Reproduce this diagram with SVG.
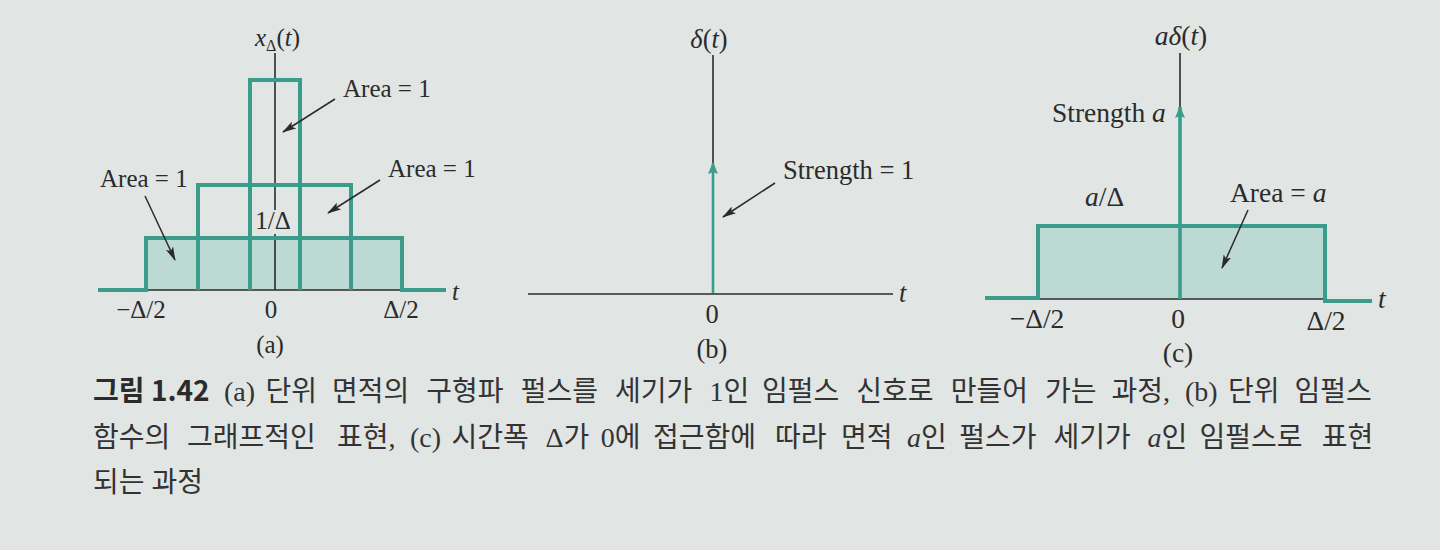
<svg xmlns="http://www.w3.org/2000/svg" width="1440" height="550" viewBox="0 0 1440 550">
<defs>
<style>
.lbl{font-family:"Liberation Serif","Times New Roman",serif;font-size:25px;fill:#2b2b2b}
.lb{font-size:26.5px}
.lc{font-size:27.5px}
.it{font-style:italic}
.teal{stroke:#3a9c8b;fill:none;stroke-width:4}
.fill{fill:#bcd9d3;stroke:none}
.ax{stroke:#2b2b2b;stroke-width:1.6;fill:none}
.ptr{stroke:#2b2b2b;stroke-width:1.5;fill:none;marker-end:url(#ah)}
.cap{font-family:"Liberation Serif","Noto Sans CJK KR",serif;font-size:28px;fill:#333}
.capb{font-family:"Noto Sans CJK KR",sans-serif;font-weight:bold;font-size:28px;fill:#2b2b2b}
</style>
<marker id="ah" viewBox="0 0 14 8" refX="13" refY="4" markerWidth="14" markerHeight="8" markerUnits="userSpaceOnUse" orient="auto">
<path d="M0,0 L14,4 L0,8 L3,4 Z" fill="#2b2b2b"/>
</marker>
<marker id="th" viewBox="0 0 12 10" refX="11" refY="5" markerWidth="12" markerHeight="10" markerUnits="userSpaceOnUse" orient="auto">
<path d="M0,0 L12,5 L0,10 L2,5 Z" fill="#3a9c8b"/>
</marker>
</defs>
<rect width="1440" height="550" fill="#e1e5e4"/>

<g id="panel-a">
<rect class="fill" x="146" y="238" width="256" height="52"/>
<line class="ax" x1="275" y1="53" x2="275" y2="210"/>
<line class="ax" x1="275" y1="234" x2="275" y2="290"/>
<line class="ax" x1="146" y1="290" x2="402" y2="290"/>
<path class="teal" d="M98,290 H146 V238 H402 V290 H446"/>
<path class="teal" d="M198,290 V185 H351 V290"/>
<path class="teal" d="M250,290 V80 H300 V290"/>
<text class="lbl it" x="255" y="46">x<tspan font-style="normal" font-size="16" dy="5">Δ</tspan><tspan font-style="normal" dy="-5">(</tspan>t<tspan font-style="normal">)</tspan></text>
<text class="lbl" x="343" y="97">Area = 1</text>
<text class="lbl" x="388" y="177">Area = 1</text>
<text class="lbl" x="100" y="187">Area = 1</text>
<text class="lbl" x="273" y="229" text-anchor="middle" font-size="22">1/Δ</text>
<text class="lbl" x="141" y="318" text-anchor="middle">−Δ/2</text>
<text class="lbl" x="271" y="318" text-anchor="middle">0</text>
<text class="lbl" x="401" y="318" text-anchor="middle">Δ/2</text>
<text class="lbl it" x="452" y="300">t</text>
<text class="lbl" x="270" y="353" text-anchor="middle">(a)</text>
</g>

<g id="panel-b">
<line class="ax" x1="528" y1="294" x2="893" y2="294"/>
<line class="ax" x1="713" y1="55" x2="713" y2="166"/>
<line x1="713" y1="293" x2="713" y2="163" stroke="#3a9c8b" stroke-width="2.6" marker-end="url(#th)"/>
<text class="lbl lb" x="709" y="48" text-anchor="middle"><tspan class="it">δ</tspan>(<tspan class="it">t</tspan>)</text>
<text class="lbl lb" x="783" y="179">Strength = 1</text>
<text class="lbl lb" x="712" y="323" text-anchor="middle">0</text>
<text class="lbl lb it" x="899" y="302">t</text>
<text class="lbl lb" x="712" y="358" text-anchor="middle">(b)</text>
</g>

<g id="panel-c">
<rect class="fill" x="1038" y="226" width="287" height="73"/>
<line class="ax" x1="1038" y1="299" x2="1325" y2="299"/>
<path class="teal" d="M985,298 H1038 V226 H1325 V301 H1372"/>
<line class="ax" x1="1180" y1="53" x2="1180" y2="110"/>
<line x1="1180" y1="299" x2="1180" y2="107" stroke="#3a9c8b" stroke-width="3.6" marker-end="url(#th)"/>
<text class="lbl lc" x="1181" y="45" text-anchor="middle"><tspan class="it">aδ</tspan>(<tspan class="it">t</tspan>)</text>
<text class="lbl lc" x="1052" y="122">Strength <tspan class="it">a</tspan></text>
<text class="lbl lc it" x="1085" y="206">a<tspan font-style="normal">/Δ</tspan></text>
<text class="lbl lc" x="1230" y="202">Area = <tspan class="it">a</tspan></text>
<text class="lbl lc" x="1037" y="328" text-anchor="middle">−Δ/2</text>
<text class="lbl lc" x="1178" y="328" text-anchor="middle">0</text>
<text class="lbl lc" x="1326" y="330" text-anchor="middle">Δ/2</text>
<text class="lbl lc it" x="1378" y="308">t</text>
<text class="lbl lc" x="1178" y="362" text-anchor="middle">(c)</text>
</g>

<g id="connectors">
<line class="ptr" x1="335" y1="99" x2="283" y2="132"/>
<line class="ptr" x1="380" y1="180" x2="328" y2="213"/>
<line class="ptr" x1="145" y1="196" x2="175" y2="260"/>
<line class="ptr" x1="775" y1="183" x2="723" y2="217"/>
<line class="ptr" x1="1248" y1="210" x2="1222" y2="268"/>
</g>

<g id="caption">
<text class="cap" y="401"><tspan class="capb" x="93">그림 1.42</tspan><tspan x="224">(a)</tspan><tspan x="265.5">단위</tspan><tspan x="332">면적의</tspan><tspan x="426.3">구형파</tspan><tspan x="520.7">펄스를</tspan><tspan x="615">세기가</tspan><tspan x="709.5">1인</tspan><tspan x="762">임펄스</tspan><tspan x="856.3">신호로</tspan><tspan x="950.7">만들어</tspan><tspan x="1045">가는</tspan><tspan x="1111.5">과정,</tspan><tspan x="1185">(b)</tspan><tspan x="1228">단위</tspan><tspan x="1294.4">임펄스</tspan></text>
<text class="cap" y="447"><tspan x="93">함수의</tspan><tspan x="187">그래프적인</tspan><tspan x="337">표현,</tspan><tspan x="410">(c)</tspan><tspan x="451.5">시간폭</tspan><tspan x="545.6">Δ가</tspan><tspan x="600.8">0에</tspan><tspan x="653">접근함에</tspan><tspan x="775">따라</tspan><tspan x="841">면적</tspan><tspan x="907"><tspan font-style="italic">a</tspan>인</tspan><tspan x="959.3">펄스가</tspan><tspan x="1053.4">세기가</tspan><tspan x="1147.5"><tspan font-style="italic">a</tspan>인</tspan><tspan x="1199.6">임펄스로</tspan><tspan x="1321.7">표현</tspan></text>
<text class="cap" x="93" y="492">되는 과정</text>
</g>
</svg>
